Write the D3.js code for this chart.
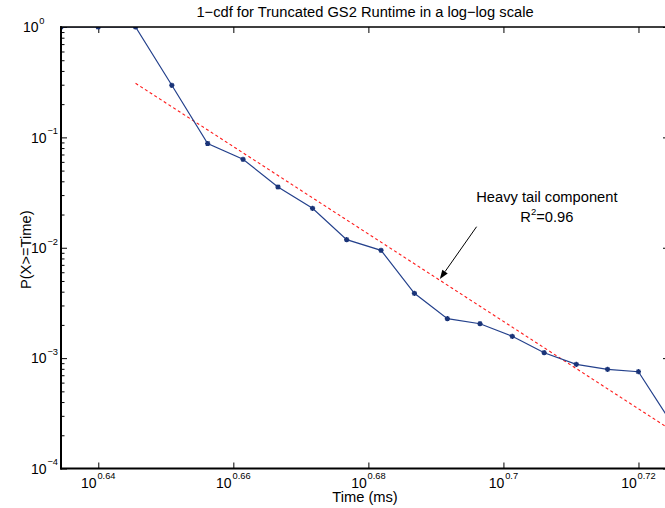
<!DOCTYPE html>
<html><head><meta charset="utf-8">
<script src="https://cdn.jsdelivr.net/npm/d3@7"></script>
<style>
body{margin:0;background:#fff}
svg{display:block}
text{font-family:"Liberation Sans",Arial,Helvetica,sans-serif;fill:#000}
</style>
</head><body>
<svg id="c" width="665" height="508"></svg>
<script>
// ---- data ----
const times = [4.310, 4.365, 4.421, 4.476, 4.531, 4.586, 4.641, 4.696, 4.751, 4.807,
               4.862, 4.917, 4.972, 5.027, 5.082, 5.138, 5.193, 5.248, 5.303];
const probs = [1, 1, 1, 0.2963, 0.0880, 0.0633, 0.0355, 0.02277, 0.01183, 0.00948,
               0.003867, 0.002276, 0.002050, 0.001576, 0.001120, 0.000879, 0.000792, 0.000753, 0.000280];
const fitTimes = [4.421, 5.303];
const fitProbs = [0.309, 0.000230];
const xTickExps = [0.64, 0.66, 0.68, 0.70, 0.72];
const xTickLabels = ["0.64", "0.66", "0.68", "0.7", "0.72"];
const yTickExps = [0, -1, -2, -3, -4];
const yTickLabels = ["0", "\u22121", "\u22122", "\u22123", "\u22124"];
const titleText = "1\u2212cdf for Truncated GS2 Runtime in a log\u2212log scale";
const xLabelText = "Time (ms)";
const yLabelText = "P(X>=Time)";
const annLine1 = "Heavy tail component";
const annR2 = "0.96";

// ---- layout ----
const W = 665, H = 508;
const L = 61, T = 27, R = 669, B = 468.5;
const svg = d3.select("#c");
svg.append("rect").attr("width", W).attr("height", H).attr("fill", "#fff");

const x = d3.scaleLog().domain([d3.min(times), d3.max(times)]).range([L, R]);
const y = d3.scaleLog().domain([1e-4, 1]).range([B, T]);

svg.append("defs").append("clipPath").attr("id", "clip")
  .append("rect").attr("x", L).attr("y", T).attr("width", R - L).attr("height", B - T);

// ---- axes (inward ticks, box) ----
const xMajor = xTickExps.map(e => Math.pow(10, e));
const yMajor = yTickExps.map(e => Math.pow(10, e));
const yMinor = y.ticks().filter(v => !yMajor.some(m => Math.abs(m - v) / m < 1e-9));

function styleAxis(g) {
  g.select(".domain").remove();
  g.selectAll(".tick line").attr("stroke", "#000").attr("stroke-width", 1);
}
svg.append("g").attr("transform", `translate(0,${B})`)
  .call(d3.axisBottom(x).tickValues(xMajor).tickSize(-6).tickFormat("")).call(styleAxis);
svg.append("g").attr("transform", `translate(0,${T})`)
  .call(d3.axisTop(x).tickValues(xMajor).tickSize(-6).tickFormat("")).call(styleAxis);
svg.append("g").attr("transform", `translate(${L},0)`)
  .call(d3.axisLeft(y).tickValues(yMajor).tickSize(-6).tickFormat("")).call(styleAxis);
svg.append("g").attr("transform", `translate(${L},0)`)
  .call(d3.axisLeft(y).tickValues(yMinor).tickSize(-3.5).tickFormat("")).call(styleAxis);
svg.append("g").attr("transform", `translate(${R},0)`)
  .call(d3.axisRight(y).tickValues(yMajor).tickSize(-6).tickFormat("")).call(styleAxis);
svg.append("g").attr("transform", `translate(${R},0)`)
  .call(d3.axisRight(y).tickValues(yMinor).tickSize(-3.5).tickFormat("")).call(styleAxis);

// tick labels
xTickExps.forEach((e, i) => {
  const t = svg.append("text").attr("x", x(Math.pow(10, e))).attr("y", B + 19)
    .attr("text-anchor", "middle");
  t.append("tspan").attr("font-size", 14).text("10");
  t.append("tspan").attr("font-size", 9.3).attr("dy", -8.8).attr("dx", 0.8).text(xTickLabels[i]);
});
yTickExps.forEach((e, i) => {
  const t = svg.append("text").attr("x", e === 0 ? 44.5 : 58).attr("y", y(Math.pow(10, e)) + 5.3)
    .attr("text-anchor", "end");
  t.append("tspan").attr("font-size", 14).text("10");
  t.append("tspan").attr("font-size", 9.3).attr("dy", -8.5).attr("dx", 0.8).text(yTickLabels[i]);
});

// title and axis labels
svg.append("text").attr("x", (L + R) / 2).attr("y", 17).attr("text-anchor", "middle")
  .attr("font-size", 14.7).text(titleText);
svg.append("text").attr("x", (L + R) / 2).attr("y", 502).attr("text-anchor", "middle")
  .attr("font-size", 14.7).text(xLabelText);
svg.append("text").attr("transform", `translate(31,${(T + B) / 2 + 2}) rotate(-90)`)
  .attr("text-anchor", "middle").attr("font-size", 14.7).text(yLabelText);

// ---- marks ----
const plot = svg.append("g").attr("clip-path", "url(#clip)");
const fit = fitTimes.map((t, i) => [t, fitProbs[i]]);
plot.append("path").datum(fit)
  .attr("d", d3.line().x(d => x(d[0])).y(d => y(d[1])))
  .attr("fill", "none").attr("stroke", "#ff1a1a").attr("stroke-width", 1.1)
  .attr("stroke-dasharray", "3,2.6");

const pts = times.map((t, i) => [t, probs[i]]);
plot.append("path").datum(pts)
  .attr("d", d3.line().x(d => x(d[0])).y(d => y(d[1])))
  .attr("fill", "none").attr("stroke", "#24418c").attr("stroke-width", 1.2);

const star = "M-2.6,0H2.6M0,-2.6V2.6M-1.9,-1.9L1.9,1.9M-1.9,1.9L1.9,-1.9";
plot.selectAll(".mk").data(pts).enter().append("path")
  .attr("transform", d => `translate(${x(d[0])},${y(d[1])})`)
  .attr("d", star).attr("stroke", "#1a3478").attr("stroke-width", 1.4).attr("fill", "none");

// frame on top (filled bars)
const fw = 2;
const frame = svg.append("g").attr("fill", "#000");
frame.append("rect").attr("x", L - fw / 2).attr("y", T - 0.75).attr("width", fw).attr("height", B - T + 1.75);
frame.append("rect").attr("x", L - fw / 2).attr("y", B - fw / 2).attr("width", R - L + fw).attr("height", fw);
frame.append("rect").attr("x", L - fw / 2).attr("y", T - 0.75).attr("width", R - L + fw).attr("height", 1.5);
frame.append("rect").attr("x", R - fw / 2).attr("y", T - 0.75).attr("width", fw).attr("height", B - T + 1.75);

// ---- annotation ----
const tail = [x(4.9662), y(0.01551)];
const head = [x(4.9044), y(0.005210)];
const dx = head[0] - tail[0], dy = head[1] - tail[1];
const len = Math.hypot(dx, dy), ux = dx / len, uy = dy / len;
const hl = 9, hw = 3.3;
const base = [head[0] - hl * ux, head[1] - hl * uy];
svg.append("line").attr("x1", tail[0]).attr("y1", tail[1]).attr("x2", base[0]).attr("y2", base[1])
  .attr("stroke", "#000").attr("stroke-width", 1);
svg.append("path")
  .attr("d", `M${head[0]},${head[1]}L${base[0] + hw * uy},${base[1] - hw * ux}L${base[0] - hw * uy},${base[1] + hw * ux}Z`)
  .attr("fill", "#000");

const ax = x(5.0867);
svg.append("text").attr("x", ax).attr("y", y(0.02597)).attr("text-anchor", "middle")
  .attr("font-size", 14.7).text(annLine1);
const r2 = svg.append("text").attr("x", ax).attr("y", y(0.01700)).attr("text-anchor", "middle")
  .attr("font-size", 14.7);
r2.append("tspan").text("R");
r2.append("tspan").attr("font-size", 9.5).attr("dy", -7).text("2");
r2.append("tspan").attr("dy", 7).text("=" + annR2);
</script>
</body></html>
